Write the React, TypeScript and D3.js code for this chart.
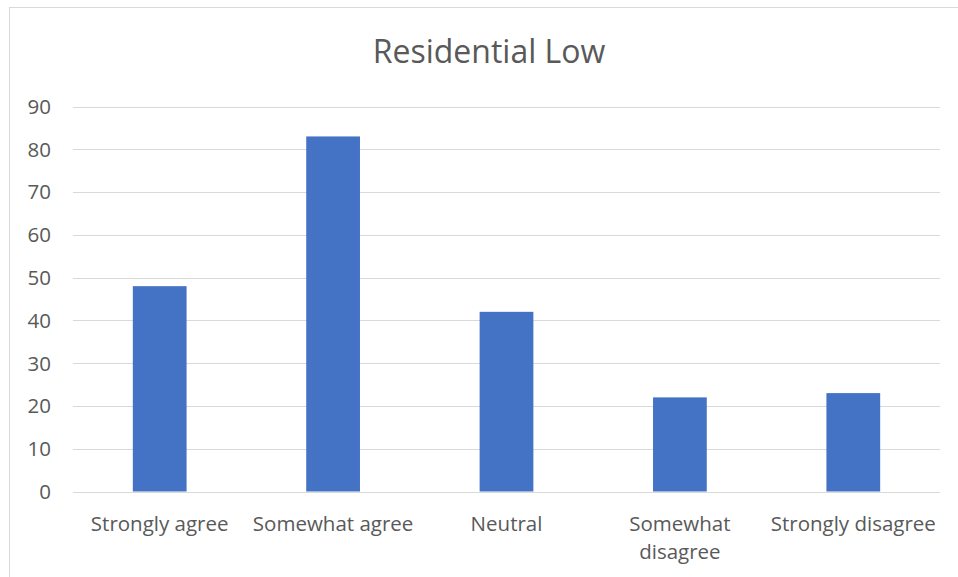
import React, { useEffect, useRef } from "react";
import * as d3 from "d3";

const categories = ["Strongly agree", "Somewhat agree", "Neutral", "Somewhat disagree", "Strongly disagree"];
const values = [48, 83, 42, 22, 23];
const yTicks = [0, 10, 20, 30, 40, 50, 60, 70, 80, 90];
const title = "Residential Low";

const W = 958;
const H = 577;
const FONT = "Open Sans, sans-serif";

export default function App() {
  const ref = useRef<SVGSVGElement>(null);
  useEffect(() => {
    const svg = d3.select(ref.current);
    svg.selectAll("*").remove();
    const left = 73, right = 940, top = 106.5, bottom = 491.5;
    const x = d3.scaleBand().domain(categories).range([left, right]).paddingInner(0.69).paddingOuter(0.345);
    const y = d3.scaleLinear().domain([0, 90]).range([bottom, top]);

    svg.append("rect").attr("x", 9.5).attr("y", 7.5).attr("width", 1000).attr("height", 1000)
      .attr("fill", "#fff").attr("stroke", "#d9d9d9").attr("stroke-width", 1);

    svg.append("text").attr("x", 489).attr("y", 63).attr("text-anchor", "middle")
      .attr("font-family", FONT).attr("font-size", 32).attr("fill", "#595959").text(title);

    const g = svg.append("g");
    g.selectAll("line.grid").data(yTicks).join("line").attr("class", "grid")
      .attr("x1", left).attr("x2", right)
      .attr("y1", d => Math.round(y(d)) + 0.5).attr("y2", d => Math.round(y(d)) + 0.5)
      .attr("stroke", "#d9d9d9").attr("stroke-width", 1);

    g.selectAll("text.yt").data(yTicks).join("text").attr("class", "yt")
      .attr("x", 51).attr("y", d => y(d)).attr("dy", "0.36em").attr("text-anchor", "end")
      .attr("font-family", FONT).attr("font-size", 20.5).attr("fill", "#595959").text(d => String(d));

    g.selectAll("rect.bar").data(values).join("rect").attr("class", "bar")
      .attr("x", (_, i) => x(categories[i])!).attr("width", x.bandwidth())
      .attr("y", d => y(d)).attr("height", d => bottom - y(d)).attr("fill", "#4472C4");

    const labelLines = (c: string) => (c === "Somewhat disagree" ? ["Somewhat", "disagree"] : [c]);
    categories.forEach(c => {
      const cx = x(c)! + x.bandwidth() / 2;
      const t = g.append("text").attr("text-anchor", "middle").attr("font-family", FONT)
        .attr("font-size", 20.5).attr("fill", "#595959");
      labelLines(c).forEach((ln, i) => {
        t.append("tspan").attr("x", cx).attr("y", 531 + i * 28).text(ln);
      });
    });
  }, []);
  return (
    <div style={{ position: "absolute", left: 0, top: 0 }}>
      <svg ref={ref} width={W} height={H} style={{ display: "block" }} />
    </div>
  );
}
